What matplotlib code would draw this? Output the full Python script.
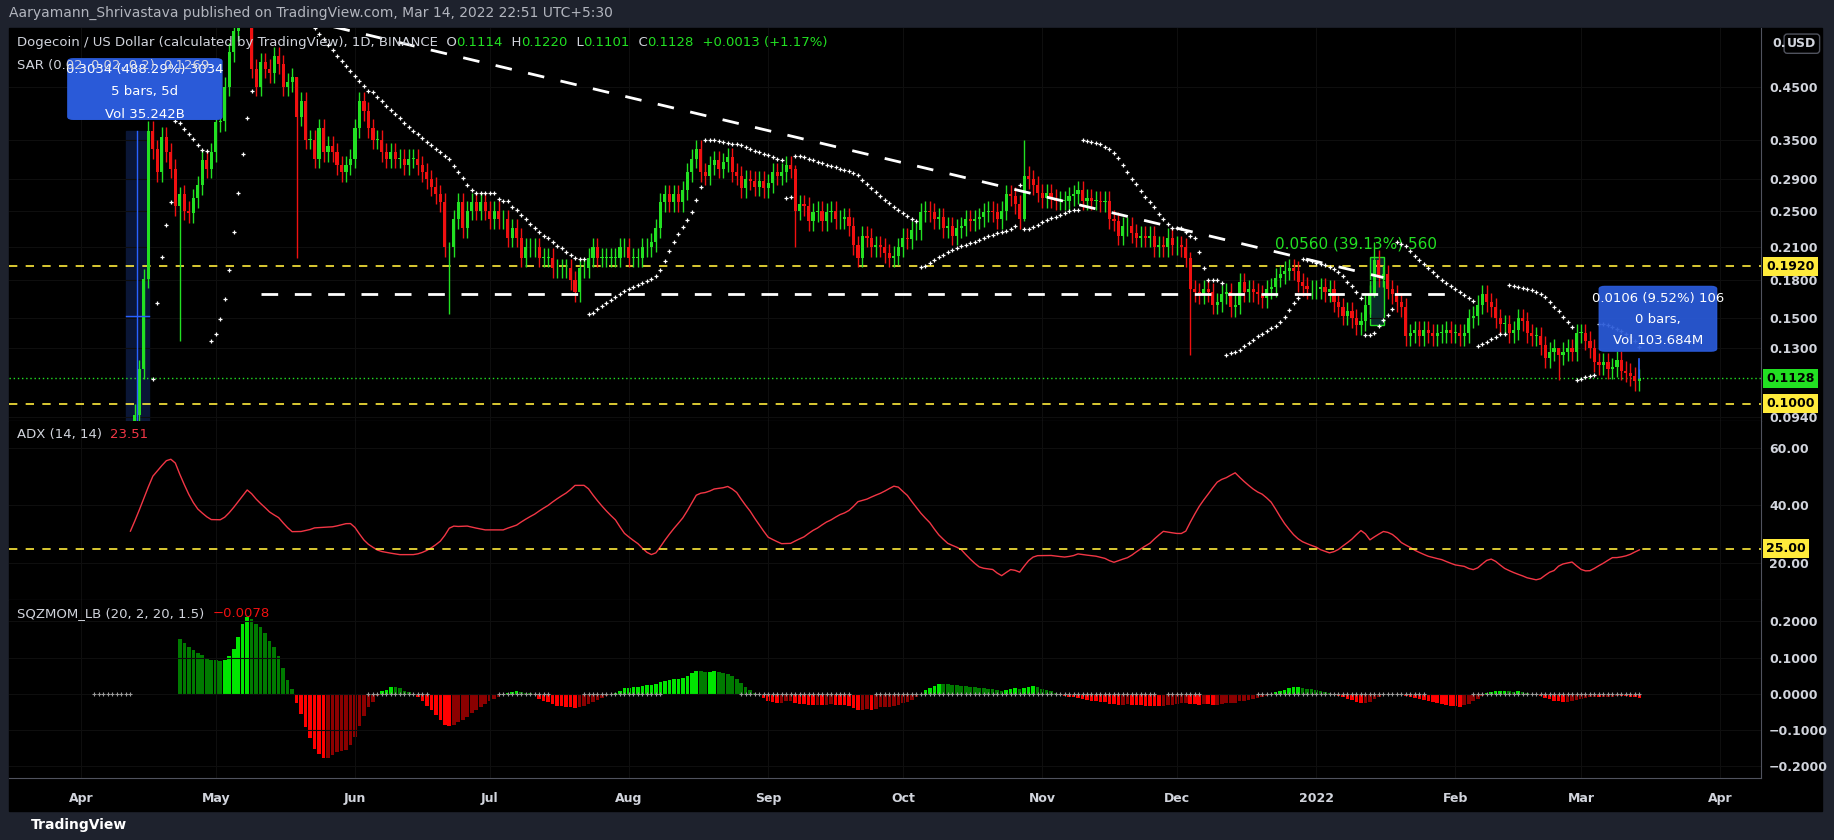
import numpy as np
import pandas as pd
import matplotlib
matplotlib.use("Agg")
import matplotlib.pyplot as plt
import matplotlib.dates as mdates
from matplotlib.patches import Rectangle, FancyBboxPatch

# daily closes, DOGE/USD, Mar 16 2021 -> Mar 14 2022
mar21 = [0.058, 0.058, 0.057, 0.058, 0.058, 0.058, 0.056, 0.052, 0.054, 0.053, 0.052, 0.053, 0.053, 0.054, 0.053, 0.053]
apr21 = [0.055, 0.059, 0.061, 0.060, 0.060, 0.059, 0.059, 0.060, 0.061, 0.063, 0.064, 0.062,
         0.095, 0.118, 0.181, 0.365, 0.335, 0.300, 0.355, 0.330, 0.305, 0.255, 0.270, 0.250,
         0.247, 0.265, 0.282, 0.318, 0.305, 0.330]
may21 = [0.380, 0.382, 0.450, 0.530, 0.585, 0.640, 0.680, 0.640, 0.490, 0.450, 0.505, 0.490, 0.480, 0.520, 0.500, 0.450,
         0.460, 0.470, 0.390, 0.420, 0.350, 0.350, 0.320, 0.370, 0.330, 0.340, 0.330, 0.310, 0.300, 0.310, 0.320]
jun21 = [0.370, 0.420, 0.400, 0.370, 0.350, 0.350, 0.330, 0.320, 0.330, 0.320, 0.320, 0.310, 0.320, 0.320, 0.310,
         0.300, 0.290, 0.280, 0.270, 0.260, 0.210, 0.210, 0.240, 0.260, 0.230, 0.250, 0.260, 0.250, 0.260, 0.250]
jul21 = [0.240, 0.250, 0.240, 0.240, 0.220, 0.230, 0.220, 0.200, 0.210, 0.210, 0.210, 0.200, 0.200, 0.200, 0.190, 0.190,
         0.190, 0.190, 0.180, 0.170, 0.190, 0.190, 0.200, 0.210, 0.200, 0.200, 0.200, 0.200, 0.200, 0.210, 0.210]
aug21 = [0.200, 0.200, 0.200, 0.210, 0.210, 0.215, 0.230, 0.260, 0.270, 0.260, 0.270, 0.260, 0.275, 0.300, 0.320, 0.335,
         0.300, 0.295, 0.310, 0.318, 0.305, 0.315, 0.322, 0.300, 0.295, 0.278, 0.290, 0.288, 0.280, 0.288, 0.278]
sep21 = [0.285, 0.300, 0.295, 0.300, 0.310, 0.305, 0.250, 0.258, 0.255, 0.238, 0.248, 0.250, 0.238, 0.248, 0.250,
         0.240, 0.240, 0.242, 0.232, 0.212, 0.200, 0.222, 0.220, 0.210, 0.212, 0.210, 0.204, 0.200, 0.202, 0.210]
oct21 = [0.220, 0.218, 0.228, 0.228, 0.248, 0.250, 0.248, 0.240, 0.242, 0.230, 0.232, 0.222, 0.230, 0.232, 0.240, 0.238,
         0.240, 0.242, 0.248, 0.250, 0.248, 0.240, 0.250, 0.270, 0.268, 0.258, 0.240, 0.295, 0.290, 0.282, 0.272]
nov21 = [0.265, 0.272, 0.265, 0.262, 0.262, 0.262, 0.268, 0.270, 0.275, 0.262, 0.265, 0.262, 0.262, 0.260, 0.262,
         0.240, 0.238, 0.222, 0.232, 0.232, 0.225, 0.220, 0.222, 0.220, 0.222, 0.210, 0.212, 0.210, 0.220, 0.212]
dec21 = [0.212, 0.210, 0.200, 0.172, 0.170, 0.168, 0.172, 0.170, 0.160, 0.162, 0.168, 0.170, 0.158, 0.160, 0.178, 0.170,
         0.172, 0.170, 0.168, 0.165, 0.172, 0.174, 0.182, 0.185, 0.188, 0.190, 0.188, 0.178, 0.175, 0.172, 0.172]
jan22 = [0.172, 0.174, 0.170, 0.172, 0.162, 0.158, 0.152, 0.155, 0.150, 0.145, 0.148, 0.160, 0.168, 0.198, 0.182, 0.185,
         0.172, 0.168, 0.162, 0.158, 0.138, 0.140, 0.142, 0.138, 0.142, 0.140, 0.138, 0.140, 0.140, 0.142, 0.140]
feb22 = [0.140, 0.138, 0.140, 0.150, 0.152, 0.160, 0.168, 0.162, 0.158, 0.150, 0.146, 0.146, 0.140, 0.142,
         0.150, 0.148, 0.140, 0.138, 0.138, 0.132, 0.124, 0.128, 0.130, 0.126, 0.128, 0.130, 0.128, 0.140]
mar22 = [0.140, 0.135, 0.130, 0.122, 0.120, 0.122, 0.118, 0.119, 0.123, 0.117, 0.116, 0.114, 0.1115, 0.1128]

# long wicks: date -> (high, low)
wick_overrides = {
    '2021-04-13': (0.100, 0.070), '2021-04-23': (0.280, 0.135), '2021-05-19': (0.470, 0.200),
    '2021-06-22': (0.215, 0.153), '2021-09-07': (0.310, 0.210), '2021-10-28': (0.350, 0.238),
    '2021-12-04': (0.205, 0.126), '2022-01-14': (0.215, 0.166), '2022-02-24': (0.130, 0.112),
}
WICK = 0.045

price_ticks = [0.45, 0.35, 0.29, 0.25, 0.21, 0.18, 0.15, 0.13, 0.094]
level_yellow = [0.192, 0.100]
last_close = 0.1128
month_ticks = ['2021-04-01', '2021-05-01', '2021-06-01', '2021-07-01', '2021-08-01', '2021-09-01', '2021-10-01',
               '2021-11-01', '2021-12-01', '2022-01-01', '2022-02-01', '2022-03-01', '2022-04-01']
month_labels = ['Apr', 'May', 'Jun', 'Jul', 'Aug', 'Sep', 'Oct', 'Nov', 'Dec', '2022', 'Feb', 'Mar', 'Apr']

# ---- build OHLC ----
close = np.array(mar21 + apr21 + may21 + jun21 + jul21 + aug21 + sep21 + oct21 + nov21 + dec21 + jan22 + feb22 + mar22)
dates = pd.date_range('2021-03-16', periods=len(close), freq='D')
opn = np.concatenate([[0.058], close[:-1]])
high = np.maximum(opn, close) * (1 + WICK)
low = np.minimum(opn, close) * (1 - WICK)
for d_, (h, l) in wick_overrides.items():
    i = dates.get_loc(pd.Timestamp(d_))
    high[i], low[i] = h, l
x = mdates.date2num(dates)


def rma(a, n):
    out = np.full(len(a), np.nan)
    out[n - 1] = np.nanmean(a[:n])
    for i in range(n, len(a)):
        out[i] = (out[i - 1] * (n - 1) + a[i]) / n
    return out


# parabolic SAR
def psar(h, l, step=0.02, mx=0.2):
    sar = np.zeros(len(h))
    up = True
    af = step
    ep = h[0]
    sar[0] = l[0]
    for i in range(1, len(h)):
        s = sar[i - 1] + af * (ep - sar[i - 1])
        if up:
            s = min(s, l[i - 1], l[i - 2] if i > 1 else l[i - 1])
            if l[i] < s:
                up, s, ep, af = False, ep, l[i], step
            elif h[i] > ep:
                ep, af = h[i], min(af + step, mx)
        else:
            s = max(s, h[i - 1], h[i - 2] if i > 1 else h[i - 1])
            if h[i] > s:
                up, s, ep, af = True, ep, h[i], step
            elif l[i] < ep:
                ep, af = l[i], min(af + step, mx)
        sar[i] = s
    return sar


sar = psar(high, low)

# ADX(14,14)
tr = np.maximum(high[1:] - low[1:], np.maximum(abs(high[1:] - close[:-1]), abs(low[1:] - close[:-1])))
upm = high[1:] - high[:-1]
dnm = low[:-1] - low[1:]
pdm = np.where((upm > dnm) & (upm > 0), upm, 0)
ndm = np.where((dnm > upm) & (dnm > 0), dnm, 0)
atr = rma(tr, 14)
pdi = 100 * rma(pdm, 14) / atr
ndi = 100 * rma(ndm, 14) / atr
dx = 100 * abs(pdi - ndi) / (pdi + ndi)
adx_part = rma(dx[13:], 14)
adx = np.concatenate([np.full(len(close) - len(adx_part), np.nan), adx_part])

# squeeze momentum (LazyBear)
s = pd.Series(close)
hh = pd.Series(high).rolling(20).max()
ll = pd.Series(low).rolling(20).min()
src = s - ((hh + ll) / 2 + s.rolling(20).mean()) / 2
t = np.arange(20)


def linreg(w):
    m, b = np.polyfit(t, w, 1)
    return m * 19 + b


mom = src.rolling(20).apply(linreg, raw=True).values
basis = s.rolling(20).mean()
dev = 2 * s.rolling(20).std(ddof=0)
rng = pd.Series(np.concatenate([[high[0] - low[0]], tr])).rolling(20).mean()
sqz_on = ((basis - dev) > (basis - 1.5 * rng)) & ((basis + dev) < (basis + 1.5 * rng))

# ---- figure ----
BG = '#000000'
BAR = '#1e222d'
TXT = '#d1d4dc'
GREEN = '#22e022'
RED = '#f01010'
fig = plt.figure(figsize=(18.34, 8.4), dpi=100, facecolor=BAR)
L, R = 0.005, 0.960
fig.patches.append(Rectangle((L, 0.0348), 0.9886, 0.932, transform=fig.transFigure, color=BG, zorder=-5))
ax1 = fig.add_axes([L, 0.4986, R - L, 0.468])
ax2 = fig.add_axes([L, 0.2855, R - L, 0.2131], sharex=ax1)
ax3 = fig.add_axes([L, 0.0738, R - L, 0.2117], sharex=ax1)
for ax in (ax1, ax2, ax3):
    ax.set_facecolor(BG)
    for sp in ax.spines.values():
        sp.set_visible(False)
    ax.spines['right'].set_visible(True)
    ax.spines['right'].set_color('#50535e')
    ax.spines['bottom'].set_visible(True)
    ax.spines['bottom'].set_color('#50535e')
    ax.yaxis.tick_right()
    ax.tick_params(colors=TXT, labelsize=9, length=0, pad=6)
    ax.grid(True, color='#0e0e0e', lw=0.8)

ax1.set_xlim(mdates.date2num(pd.Timestamp('2021-03-16')), mdates.date2num(pd.Timestamp('2022-04-10')))


def d(s_):
    return mdates.date2num(pd.Timestamp(s_))


# candles
col = np.where(close >= opn, GREEN, RED)
ax1.vlines(x, low, high, colors=col, lw=1.0, zorder=3)
ax1.bar(x, np.maximum(abs(close - opn), 0.0004), bottom=np.minimum(opn, close), width=0.7, color=col, zorder=3)
ax1.scatter(x, sar, marker='+', s=6, color='white', lw=0.9, zorder=4)
ax1.set_yscale('log')
ax1.set_ylim(0.0921, 0.594)
ax1.set_yticks(price_ticks)
ax1.set_yticklabels([f'{v:.4f}' for v in price_ticks], fontweight='bold')
ax1.minorticks_off()

# trendlines
ax1.plot([d('2021-05-20'), d('2022-01-16')], [0.62, 0.182], color='white', lw=2, dashes=(6, 6), zorder=5)
ax1.plot([d('2021-05-11'), d('2022-01-31')], [0.168, 0.168], color='white', lw=2, dashes=(6, 6), zorder=5)
for lv in level_yellow:
    ax1.axhline(lv, color='#ffeb3b', lw=1.2, dashes=(5, 5), zorder=2)
ax1.axhline(last_close, color=GREEN, lw=1, ls=(0, (1, 2)), zorder=2)

# measurement boxes
ax1.add_patch(Rectangle((d('2021-04-11'), 0.0921), 5.2, 0.364 - 0.0921, color='#0a1636', zorder=1))
ax1.plot([d('2021-04-13') + 0.5] * 2, [0.0921, 0.364], color='#2962ff', lw=1, zorder=6)
ax1.plot([d('2021-04-11'), d('2021-04-16') + 0.2], [0.152, 0.152], color='#2962ff', lw=1, zorder=6)
ax1.add_patch(Rectangle((d('2022-01-13'), 0.145), 3.2, 0.056, facecolor='#0a2a2a', edgecolor=GREEN, lw=1, zorder=1))
ax1.plot([d('2022-03-14')] * 2, [last_close, 0.1234], color='#2962ff', lw=1.2, zorder=6)
ax1.text(d('2022-01-10'), 0.206, '0.0560 (39.13%) 560', color=GREEN, fontsize=11, ha='center', va='bottom')

fig.patches.append(FancyBboxPatch((0.037, 0.858), 0.084, 0.072, boxstyle='round,pad=0,rounding_size=0.003',
                                  transform=fig.transFigure, color='#2a5ad8', zorder=5))
for i, s_ in enumerate(['0.3034 (488.29%) 3034', '5 bars, 5d', 'Vol 35.242B']):
    fig.text(0.079, 0.917 - i * 0.0265, s_, color='white', fontsize=9.5, ha='center', va='center', zorder=6)
fig.patches.append(FancyBboxPatch((0.872, 0.582), 0.064, 0.077, boxstyle='round,pad=0,rounding_size=0.003',
                                  transform=fig.transFigure, color='#2a5ad8', alpha=0.93, zorder=5))
for i, s_ in enumerate(['0.0106 (9.52%) 106', '0 bars,', 'Vol 103.684M']):
    fig.text(0.904, 0.645 - i * 0.025, s_, color='white', fontsize=9.5, ha='center', va='center', zorder=6)

# ADX pane
ax2.plot(x, adx, color='#f23645', lw=1)
ax2.axhline(25, color='#ffeb3b', lw=1.2, dashes=(5, 5))
ax2.set_ylim(7.2, 69.2)
ax2.set_yticks([60, 40, 20])
ax2.set_yticklabels(['60.00', '40.00', '20.00'], fontweight='bold')

# squeeze pane
prev = np.concatenate([[np.nan], mom[:-1]])
hcol = np.where(mom > 0, np.where(mom > prev, '#00e600', '#007a00'), np.where(mom < prev, '#ff0000', '#8b0000'))
ax3.bar(x, np.nan_to_num(mom), width=0.8, color=hcol)
on = np.asarray(sqz_on.fillna(False), dtype=bool)
ax3.scatter(x[on], np.zeros(on.sum()), marker='+', s=8, color='#9a9a9a', lw=0.8, zorder=4)
ax3.set_ylim(-0.232, 0.258)
ax3.set_yticks([0.2, 0.1, 0.0, -0.1, -0.2])
ax3.set_yticklabels(['0.2000', '0.1000', '0.0000', '\u22120.1000', '\u22120.2000'], fontweight='bold')
ax3.set_xticks([d(m) for m in month_ticks])
ax3.set_xticklabels(month_labels, fontweight='bold')
ax3.tick_params(axis='x', colors=TXT, pad=10)
for ax in (ax1, ax2):
    ax.tick_params(axis='x', labelbottom=False)


# price labels on the axis
def axis_tag(ax, y, s_, fc):
    ax.annotate(s_, xy=(1, y), xycoords=('axes fraction', 'data'), xytext=(4, 0), textcoords='offset points',
                ha='left', va='center', fontsize=9, fontweight='bold', color='black',
                bbox=dict(boxstyle='square,pad=0.25', fc=fc, ec='none'), annotation_clip=False, zorder=10)


axis_tag(ax1, 0.192, '0.1920', '#ffeb3b')
axis_tag(ax1, 0.100, '0.1000', '#ffeb3b')
axis_tag(ax1, last_close, '0.1128', '#22e022')
axis_tag(ax2, 25, '25.00', '#ffeb3b')
fig.text(0.9745, 0.948, 'USD', color=TXT, fontsize=9, fontweight='bold', ha='left', va='center',
         bbox=dict(boxstyle='round,pad=0.25', fc='black', ec='#50535e'))
fig.text(0.9665, 0.948, '0.', color=TXT, fontsize=9, fontweight='bold', ha='left', va='center')

# header / legends
fig.text(0.005, 0.985, 'Aaryamann_Shrivastava published on TradingView.com, Mar 14, 2022 22:51 UTC+5:30',
         color='#b2b5be', fontsize=10, va='center')
fig.text(0.017, 0.0175, 'TradingView', color='white', fontsize=10, fontweight='bold', va='center')

renderer = fig.canvas.get_renderer()


def chain(x0, y0, parts, fs=9.5):
    for s_, c in parts:
        t_ = fig.text(x0, y0, s_, color=c, fontsize=fs, va='center', zorder=7)
        bb = t_.get_window_extent(renderer)
        x0 = fig.transFigure.inverted().transform((bb.x1, bb.y0))[0]


chain(0.009, 0.949, [('Dogecoin / US Dollar (calculated by TradingView), 1D, BINANCE  O', TXT), ('0.1114', GREEN),
                     ('  H', TXT), ('0.1220', GREEN), ('  L', TXT), ('0.1101', GREEN), ('  C', TXT),
                     ('0.1128', GREEN), ('  +0.0013 (+1.17%)', GREEN)])
chain(0.009, 0.922, [('SAR (0.02, 0.02, 0.2)  ', TXT), ('0.1269', TXT)])
chain(0.009, 0.483, [('ADX (14, 14)  ', TXT), ('23.51', '#f23645')])
chain(0.009, 0.270, [('SQZMOM_LB (20, 2, 20, 1.5)  ', TXT), ('\u22120.0078', '#f01010')])

fig.savefig('out.png', dpi=100, facecolor=BAR)
